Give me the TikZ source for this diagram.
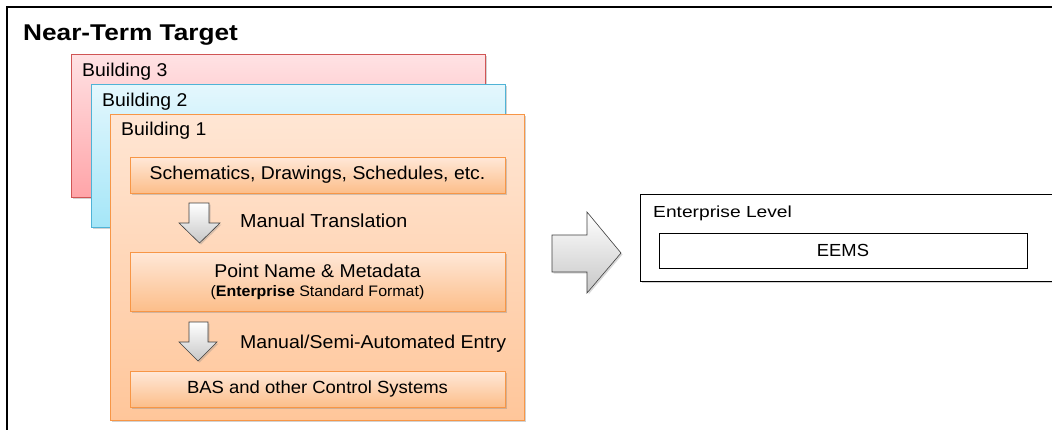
\documentclass[tikz,border=0pt]{standalone}
\usepackage{fontspec}
\setmainfont{Liberation Sans}[FakeStretch=1.05]
\newfontfamily\titlefont{Liberation Sans}[FakeStretch=1.15]
\newfontfamily\widefont{Liberation Sans}[FakeStretch=1.2]
\usetikzlibrary{shadows}
\definecolor{orbord}{HTML}{F79646}
\definecolor{ortop}{HTML}{FFE8D8}
\definecolor{orbot}{HTML}{FCBE8A}
\definecolor{bgtop}{HTML}{FFE6D4}
\definecolor{bgbot}{HTML}{FFC69A}
\definecolor{pkbord}{HTML}{D05555}
\definecolor{pktop}{HTML}{FFE2E4}
\definecolor{pkbot}{HTML}{FFA4A8}
\definecolor{cybord}{HTML}{4FB3D6}
\definecolor{cytop}{HTML}{E4F7FD}
\definecolor{cybot}{HTML}{A4E6F8}
\tikzset{
  bldg/.style={draw, line width=0.8pt, anchor=north west, inner sep=0pt, drop shadow={opacity=0.35, shadow xshift=1.5pt, shadow yshift=-1.5pt}},
  innerbox/.style={draw=orbord, line width=0.8pt, top color=ortop, bottom color=orbot, minimum width=375pt, inner sep=0pt, align=center, font=\fontsize{18.5}{21}\selectfont, drop shadow={opacity=0.35, shadow xshift=1.5pt, shadow yshift=-2pt}},
  blbl/.style={font=\fontsize{18.5}{21}\selectfont, anchor=west, inner sep=0pt},
  blockarrow/.style={draw=black!75, line width=0.6pt, top color=white, bottom color=black!22, drop shadow={opacity=0.3, shadow xshift=1.5pt, shadow yshift=-1.5pt}},
  steptext/.style={font=\fontsize{18.8}{21}\selectfont, anchor=west, inner sep=0pt},
}
\begin{document}
\begin{tikzpicture}[x=1pt,y=-1pt]
\useasboundingbox (0,0) rectangle (1052,429);
\clip (0,0) rectangle (1052,429);
\fill[white] (0,0) rectangle (1052,429);
\draw[line width=1.6pt] (7,7) rectangle (1080,450);
\node[anchor=west, inner sep=0pt, font=\titlefont\bfseries\fontsize{22.8}{26}\selectfont] (title) at (23,35) {Near-Term Target};

% buildings
\node[bldg, draw=pkbord, top color=pktop, bottom color=pkbot, minimum width=414pt, minimum height=143pt] (b3) at (71,54) {};
\node[blbl] at (82,72) {Building 3};
\node[bldg, draw=cybord, top color=cytop, bottom color=cybot, minimum width=414pt, minimum height=143pt] (b2) at (91,84) {};
\node[blbl] at (102,102) {Building 2};
\node[bldg, draw=orbord, top color=bgtop, bottom color=bgbot, minimum width=414pt, minimum height=306pt] (b1) at (110,114) {};
\node[blbl] at (121,131) {Building 1};

% inner boxes
\node[innerbox, minimum height=36pt] (sch) at (317.5,175) {Schematics, Drawings, Schedules, etc.};
\node[innerbox, minimum height=59pt] (pn) at (317.5,281.5) {Point Name \& Metadata\\[-2pt]{\fontsize{15.2}{17}\selectfont(\textbf{Enterprise} Standard Format)}};
\node[innerbox, minimum height=36pt, font=\fontsize{17.6}{21}\selectfont] (bas) at (317.5,389) {BAS and other Control Systems};

% down arrows
\draw[blockarrow] (189,203) -- (209,203) -- (209,223) -- (220,223) -- (199.5,243) -- (179,223) -- (189,223) -- cycle;
\node[steptext] (t1) at (240,221) {Manual Translation};
\draw[blockarrow] (189,322) -- (208,322) -- (208,342) -- (217,342) -- (198,361) -- (179,342) -- (189,342) -- cycle;
\node[steptext, font=\fontsize{18.6}{21}\selectfont] (t2) at (240,344) {Manual/Semi-Automated Entry};

% big arrow
\draw[blockarrow] (552,235) -- (587,235) -- (587,212) -- (621,253) -- (587,293) -- (587,272) -- (552,272) -- cycle;

% enterprise
\node[draw, line width=0.8pt, fill=white, anchor=north west, minimum width=430pt, minimum height=87pt, inner sep=0pt, drop shadow={opacity=0.35, shadow xshift=1.5pt, shadow yshift=-2pt}] (ent) at (640,194) {};
\node[anchor=west, inner sep=0pt, font=\widefont\fontsize{16}{19}\selectfont] (entl) at (653,213) {Enterprise Level};
\node[draw, line width=0.8pt, fill=white, minimum width=368pt, minimum height=35pt, inner sep=0pt, font=\fontsize{17.5}{20}\selectfont] (eems) at (843,250.5) {EEMS};
\end{tikzpicture}
\end{document}
